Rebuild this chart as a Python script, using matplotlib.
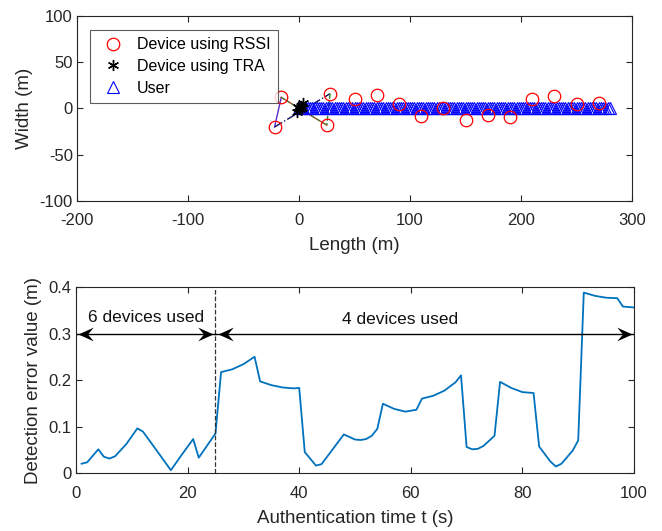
"""
Device positions (top) and detection error over time (bottom)
"""
import numpy as np
import matplotlib
matplotlib.use('Agg')
import matplotlib.pyplot as plt
from matplotlib.path import Path

plt.rcParams['font.family'] = ['Liberation Sans', 'DejaVu Sans']
plt.rcParams['axes.unicode_minus'] = False

# devices located by RSSI (m)
rssi_x = [-16, -22, 28, 25, 50, 70, 90, 110, 130, 150, 170, 190, 210, 230, 250, 270]
rssi_y = [12, -20, 16, -18, 10, 15, 5, -8, 0, -12, -7, -9, 10, 14, 5, 6]

# devices located by TRA (m)
tra_x = [0, 2, 4, -2, 3, 1, -1]
tra_y = [0, 3, 6, -4, 1, -1, 2]

# user track: start / end (m) and number of positions
user_start = 0
user_end = 280
user_count = 141

# detection error vs authentication time
t = [1, 2, 4, 5, 6, 7, 9, 11, 12, 14, 17, 19, 21, 22, 25, 26, 28, 30, 32, 33,
     35, 37, 39, 40, 41, 43, 44, 46, 48, 50, 51, 52, 53, 54, 55, 57, 59, 61,
     62, 64, 66, 68, 69, 70, 71, 72, 73, 75, 76, 78, 80, 82, 83, 85, 86, 87,
     89, 90, 91, 93, 95, 97, 98, 100]
err = [0.020, 0.023, 0.051, 0.035, 0.031, 0.036, 0.062, 0.096, 0.089, 0.056,
       0.006, 0.040, 0.073, 0.033, 0.085, 0.217, 0.223, 0.234, 0.250, 0.197,
       0.189, 0.184, 0.182, 0.183, 0.045, 0.016, 0.019, 0.051, 0.083, 0.072,
       0.071, 0.073, 0.080, 0.095, 0.149, 0.138, 0.132, 0.136, 0.160, 0.166,
       0.177, 0.195, 0.210, 0.056, 0.051, 0.052, 0.058, 0.080, 0.196, 0.183,
       0.174, 0.172, 0.057, 0.025, 0.014, 0.020, 0.048, 0.070, 0.388, 0.381,
       0.377, 0.376, 0.358, 0.356]

# phases of device usage (time spans) and their labels
phase_spans = [(0, 25), (25, 100)]
phase_labels = ['6 devices used', '4 devices used']
phase_label_x = [12.5, 58]
phase_label_y = [0.318, 0.313]
switch_time = 25
arrow_level = 0.3

fig = plt.figure(figsize=(6.62, 5.31), dpi=100)
ax1 = fig.add_axes([0.1163, 0.6215, 0.8384, 0.3484])
ax2 = fig.add_axes([0.1148, 0.1092, 0.8429, 0.3503])

#----- top: layout of devices and user -----
user_x = np.linspace(user_start, user_end, user_count)
user_y = np.zeros_like(user_x)

# connection lines between the near devices
ax1.plot([rssi_x[0], rssi_x[1]], [rssi_y[0], rssi_y[1]], color='#5a2bd0', lw=1.0)
ax1.plot([rssi_x[0], rssi_x[3]], [rssi_y[0], rssi_y[3]], color='#d0402a', lw=1.0)
ax1.plot([rssi_x[0], rssi_x[3]], [rssi_y[0], rssi_y[3]], color='#2a8a2a', lw=0.8, ls='--')
ax1.plot([rssi_x[1], rssi_x[2]], [rssi_y[1], rssi_y[2]], color='#10105a', lw=1.0, ls='-.')
ax1.plot([rssi_x[2], rssi_x[3]], [rssi_y[2], rssi_y[3]], color='#2a8a2a', lw=1.0, ls='--')

ax1.plot(user_x, user_y, ls='none', marker='^', ms=8, mfc='none', mec='b',
         mew=0.8, label='User', zorder=3)
ax1.plot(rssi_x, rssi_y, ls='none', marker='o', ms=9, mfc='none', mec='r',
         mew=0.9, label='Device using RSSI', zorder=4)
ax1.plot(tra_x, tra_y, ls='none', marker=(6, 2, 0), ms=8, color='k', mew=1.0,
         label='Device using TRA', zorder=5)

handles, labels = ax1.get_legend_handles_labels()
order = [1, 2, 0]
leg = ax1.legend([handles[i] for i in order], [labels[i] for i in order],
                 loc='upper left', bbox_to_anchor=(0.023, 0.924), fontsize=11.5,
                 frameon=True, fancybox=False, edgecolor='#333333',
                 borderaxespad=0, handlelength=2.0, borderpad=0.45,
                 labelspacing=0.42, handletextpad=0.5)
leg.get_frame().set_linewidth(0.8)

ax1.set_xlim(-200, 300)
ax1.set_ylim(-100, 100)
ax1.set_xticks([-200, -100, 0, 100, 200, 300])
ax1.set_yticks([-100, -50, 0, 50, 100])
ax1.set_xlabel('Length (m)', fontsize=13.5, color='#262626', labelpad=6)
ax1.set_ylabel('Width (m)', fontsize=13.5, color='#262626', labelpad=5)

#----- bottom: detection error -----
ax2.plot(t, err, color='#0072BD', lw=1.3)
ax2.axvline(switch_time, color='#333333', ls='--', lw=0.9)

# swept-back arrow heads, tip at the origin of the path
head_r = Path([(0, 0), (-1, 0.45), (-0.62, 0), (-1, -0.45), (0, 0)],
              [Path.MOVETO, Path.LINETO, Path.LINETO, Path.LINETO, Path.CLOSEPOLY])
head_l = Path([(0, 0), (1, 0.45), (0.62, 0), (1, -0.45), (0, 0)],
              [Path.MOVETO, Path.LINETO, Path.LINETO, Path.LINETO, Path.CLOSEPOLY])
for (a, b) in phase_spans:
    ax2.plot([a, b], [arrow_level, arrow_level], color='k', lw=1.0)
    ax2.plot([a + 0.4], [arrow_level], ls='none', marker=head_l, ms=22,
             color='k', mew=0, clip_on=False, zorder=5)
    ax2.plot([b - 0.4], [arrow_level], ls='none', marker=head_r, ms=22,
             color='k', mew=0, clip_on=False, zorder=5)

for lab, lx, ly in zip(phase_labels, phase_label_x, phase_label_y):
    ax2.text(lx, ly, lab, ha='center', va='bottom', fontsize=12.5, color='#111111')

ax2.set_xlim(0, 100)
ax2.set_ylim(0, 0.4)
ax2.set_xticks([0, 20, 40, 60, 80, 100])
ax2.set_yticks([0, 0.1, 0.2, 0.3, 0.4])
ax2.set_yticklabels(['0', '0.1', '0.2', '0.3', '0.4'])
ax2.set_xlabel('Authentication time t (s)', fontsize=13.5, color='#262626', labelpad=7)
ax2.set_ylabel('Detection error value (m)', fontsize=13.5, color='#262626', labelpad=5)

for ax in (ax1, ax2):
    ax.tick_params(direction='in', top=True, right=True, labelsize=12,
                   colors='#262626', length=4, width=0.8)
    ax.tick_params(axis='x', pad=9)
    ax.tick_params(axis='y', pad=3)
    for s in ax.spines.values():
        s.set_linewidth(0.8)
        s.set_color('#262626')

fig.savefig('out.png', dpi=100)
